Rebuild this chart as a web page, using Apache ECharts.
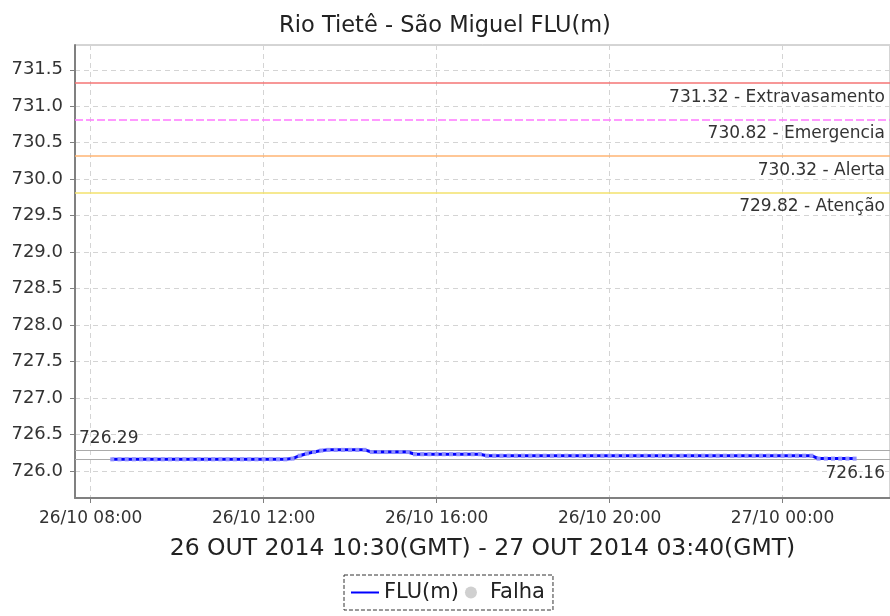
<!DOCTYPE html>
<html>
<head>
<meta charset="utf-8">
<script src="https://cdn.jsdelivr.net/npm/echarts@6/dist/echarts.min.js"></script>
<style>
  html, body { margin: 0; padding: 0; background: #fff; }
  #chart { width: 890px; height: 616px; }
</style>
</head>
<body>
<div id="chart"></div>
<script>
// leituras FLU(m), uma a cada 10 minutos a partir de 26/10 08:30 (hora local)
const startHour = 8.5;
const stepMinutes = 10;
const levels = [
  726.16, 726.16, 726.16, 726.16, 726.16, 726.16, 726.16, 726.16, 726.16, 726.16,
  726.16, 726.16, 726.16, 726.16, 726.16, 726.16, 726.16, 726.16, 726.16, 726.16,
  726.16, 726.16, 726.16, 726.16, 726.16, 726.17, 726.21, 726.24, 726.26, 726.28,
  726.29, 726.29, 726.29, 726.29, 726.29, 726.29, 726.26, 726.26, 726.26, 726.26,
  726.26, 726.26, 726.23, 726.23, 726.23, 726.23, 726.23, 726.23, 726.23, 726.23,
  726.23, 726.23, 726.21, 726.21, 726.21, 726.21, 726.21, 726.21, 726.21, 726.21,
  726.21, 726.21, 726.21, 726.21, 726.21, 726.21, 726.21, 726.21, 726.21, 726.21,
  726.21, 726.21, 726.21, 726.21, 726.21, 726.21, 726.21, 726.21, 726.21, 726.21,
  726.21, 726.21, 726.21, 726.21, 726.21, 726.21, 726.21, 726.21, 726.21, 726.21,
  726.21, 726.21, 726.21, 726.21, 726.21, 726.21, 726.21, 726.21, 726.17, 726.17,
  726.17, 726.17, 726.17, 726.17
];

// cotas de referência
const thresholds = [731.32, 730.82, 730.32, 729.82];
const thresholdNames = ['Extravasamento', 'Emergencia', 'Alerta', 'Atenção'];
const thresholdColors = ['#f47474', '#ff78ff', '#ffb473', '#f3e26c'];
const thresholdTypes = ['solid', [8, 3], 'solid', 'solid'];

const font = 'DejaVu Sans';

const points = levels.map((v, i) => [startHour + i * stepMinutes / 60, v]);

function fmtHour(h) {
  const day = 26 + Math.floor(h / 24);
  const hh = Math.round(h % 24);
  return day + '/10 ' + String(hh).padStart(2, '0') + ':00';
}

const chart = echarts.init(document.getElementById('chart'));

// uma série vazia por cota, só para carregar a markLine
const thresholdSeries = thresholds.map((v, i) => ({
  name: thresholdNames[i],
  type: 'line',
  data: [],
  silent: true,
  markLine: {
    silent: true,
    symbol: ['none', 'none'],
    lineStyle: { color: thresholdColors[i], type: thresholdTypes[i], width: 1.6, opacity: 1 },
    label: {
      formatter: v.toFixed(2) + ' - ' + thresholdNames[i],
      position: 'insideEndBottom', distance: [5, 6],
      color: '#333', fontSize: 17, fontFamily: font
    },
    data: [{ yAxis: v }]
  }
}));

const option = {
  animation: false,
  backgroundColor: '#fff',
  textStyle: { fontFamily: font },
  title: {
    text: 'Rio Tietê - São Miguel FLU(m)',
    left: 'center',
    top: 10,
    textStyle: { fontFamily: font, fontSize: 22.5, fontWeight: 'normal', color: '#222' }
  },
  grid: {
    left: 75, top: 45, right: -2, bottom: 118,
    show: true, borderColor: '#aaaaaa', borderWidth: 1
  },
  legend: {
    left: 344, top: 575,
    padding: [7, 8, 7, 6],
    borderColor: '#333', borderWidth: 1, borderType: 'dashed',
    itemWidth: 28, itemHeight: 12, itemGap: 6,
    textStyle: { fontFamily: font, fontSize: 21, color: '#222' },
    data: [
      { name: 'FLU(m)', itemStyle: { opacity: 0 } },
      { name: 'Falha', icon: 'circle' }
    ]
  },
  xAxis: {
    type: 'value',
    min: 7.638, max: 26.485,
    minInterval: 4, maxInterval: 4,
    name: '26 OUT 2014 10:30(GMT) - 27 OUT 2014 03:40(GMT)',
    nameLocation: 'middle',
    nameGap: 39,
    nameTextStyle: { fontFamily: font, fontSize: 23.5, color: '#222' },
    axisLine: { show: true, lineStyle: { color: '#808080', width: 2 } },
    axisTick: { show: true, length: 5, lineStyle: { color: '#808080' } },
    axisLabel: {
      formatter: fmtHour, showMinLabel: false, showMaxLabel: false,
      margin: 12, fontSize: 17, color: '#333', fontFamily: font
    },
    splitLine: { show: true, lineStyle: { color: '#d4d4d4', type: [5, 4], width: 1 } }
  },
  yAxis: {
    type: 'value',
    min: 725.63, max: 731.84,
    minInterval: 0.5, maxInterval: 0.5,
    axisLine: { show: true, lineStyle: { color: '#808080', width: 2 } },
    axisTick: { show: true, length: 5, lineStyle: { color: '#808080' } },
    axisLabel: {
      formatter: (v) => v.toFixed(1), showMinLabel: false, showMaxLabel: false,
      margin: 12, fontSize: 18, color: '#333', fontFamily: font
    },
    splitLine: { show: true, lineStyle: { color: '#d4d4d4', type: [5, 4], width: 1 } }
  },
  series: [
    {
      name: 'FLU(m)',
      type: 'line',
      data: points,
      symbol: 'rect',
      symbolSize: 4,
      showAllSymbol: true,
      lineStyle: { color: '#0000ff', width: 3 },
      itemStyle: { color: '#8c8cff' },
      emphasis: { disabled: true },
      z: 5,
      markLine: {
        silent: true,
        symbol: ['none', 'none'],
        precision: 2,
        lineStyle: { color: '#aaaaaa', type: 'solid', width: 1 },
        label: { color: '#333', fontSize: 17, fontFamily: font },
        data: [
          { type: 'max', label: { position: 'insideStartTop', distance: [4, 3] } },
          { type: 'min', label: { position: 'insideEndBottom', distance: [5, 6] } }
        ]
      }
    },
    {
      name: 'Falha',
      type: 'scatter',
      data: [],
      itemStyle: { color: '#c4c4c4' }
    }
  ].concat(thresholdSeries)
};

chart.setOption(option);
</script>
</body>
</html>
